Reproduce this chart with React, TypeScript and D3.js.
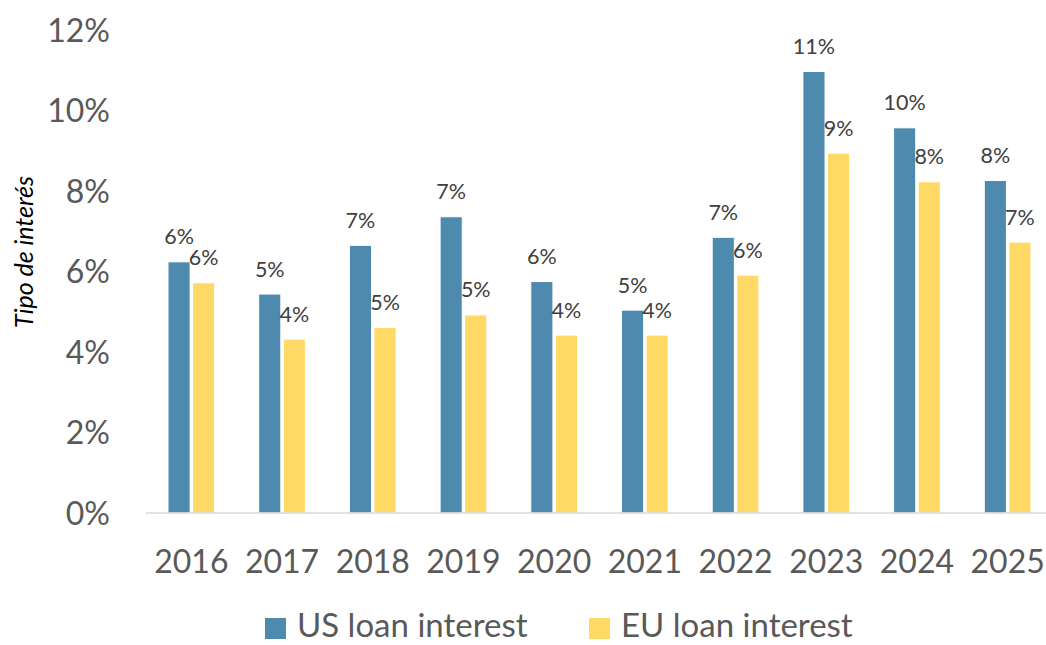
import React, { useEffect, useRef } from 'react';
import * as d3 from 'd3';

const years = ['2016', '2017', '2018', '2019', '2020', '2021', '2022', '2023', '2024', '2025'];
const usLoan = [6.24, 5.44, 6.65, 7.36, 5.75, 5.04, 6.85, 10.97, 9.57, 8.26];
const euLoan = [5.72, 4.32, 4.61, 4.92, 4.42, 4.42, 5.91, 8.94, 8.23, 6.73];
const seriesNames = ['US loan interest', 'EU loan interest'];
const yTicks = [0, 2, 4, 6, 8, 10, 12];

export default function App() {
  const ref = useRef<SVGSVGElement>(null);

  useEffect(() => {
    const svg = d3.select(ref.current);
    svg.selectAll('*').remove();

    const font = 'Lato, "Open Sans", sans-serif';
    const color = d3.scaleOrdinal<string, string>().domain(seriesNames).range(['#4E89AE', '#FFD966']);

    // outer band per year, inner band per series
    const x0 = d3.scaleBand().domain(years).range([146, 1053]).paddingInner(0).paddingOuter(0);
    const x1 = d3.scaleBand().domain(seriesNames).range([22, x0.bandwidth() - 22]).paddingInner(0.1);
    const y = d3.scaleLinear().domain([0, 12]).range([513, 30]);

    // y tick labels
    svg.append('g')
      .selectAll('text')
      .data(yTicks)
      .enter()
      .append('text')
      .attr('x', 110)
      .attr('y', (d) => y(d))
      .attr('dy', '0.36em')
      .attr('text-anchor', 'end')
      .style('font-family', font)
      .style('font-size', '32px')
      .style('fill', '#595959')
      .text((d) => d + '%');

    // y title
    svg.append('text')
      .attr('transform', 'translate(33,252) rotate(-90)')
      .attr('text-anchor', 'middle')
      .style('font-family', font)
      .style('font-style', 'italic')
      .style('font-size', '25px')
      .style('fill', '#000')
      .text('Tipo de interés');

    const rows = years.map((yr, i) => ({ year: yr, values: [usLoan[i], euLoan[i]] }));

    const groups = svg.append('g')
      .selectAll('g')
      .data(rows)
      .enter()
      .append('g')
      .attr('transform', (d) => 'translate(' + x0(d.year) + ',0)');

    const cells = (d: { values: number[] }) => seriesNames.map((s, j) => ({ key: s, value: d.values[j] }));

    groups.selectAll('rect')
      .data(cells)
      .enter()
      .append('rect')
      .attr('x', (d) => x1(d.key)!)
      .attr('y', (d) => y(d.value))
      .attr('width', x1.bandwidth())
      .attr('height', (d) => y(0) - y(d.value))
      .attr('fill', (d) => color(d.key))
      .attr('stroke', '#fff')
      .attr('stroke-width', 1);

    groups.selectAll('text')
      .data(cells)
      .enter()
      .append('text')
      .attr('x', (d) => x1(d.key)! + x1.bandwidth() / 2)
      .attr('y', (d) => y(d.value) - 17.5)
      .attr('text-anchor', 'middle')
      .style('font-family', font)
      .style('font-size', '21.5px')
      .style('fill', '#404040')
      .text((d) => Math.round(d.value) + '%');

    // x axis line
    svg.append('line')
      .attr('x1', 146)
      .attr('x2', 1053)
      .attr('y1', y(0))
      .attr('y2', y(0))
      .attr('stroke', '#D9D9D9')
      .attr('stroke-width', 1.5);

    // x labels
    svg.append('g')
      .selectAll('text')
      .data(years)
      .enter()
      .append('text')
      .attr('x', (d) => x0(d)! + x0.bandwidth() / 2)
      .attr('y', 573)
      .attr('text-anchor', 'middle')
      .style('font-family', font)
      .style('font-size', '32px')
      .style('fill', '#595959')
      .text((d) => d);

    // legend
    const legendX = [265, 589];
    const legend = svg.append('g')
      .selectAll('g')
      .data(seriesNames)
      .enter()
      .append('g')
      .attr('transform', (d, i) => 'translate(' + legendX[i] + ',618)');
    legend.append('rect')
      .attr('width', 21)
      .attr('height', 21)
      .attr('fill', (d) => color(d));
    legend.append('text')
      .attr('x', 32)
      .attr('y', 19)
      .style('font-family', font)
      .style('font-size', '33px')
      .style('fill', '#595959')
      .text((d) => d);
  }, []);

  return (
    <div style={{ position: 'fixed', left: 0, top: 0 }}>
      <svg ref={ref} width={1046} height={645} style={{ display: 'block', background: '#fff' }} />
    </div>
  );
}
